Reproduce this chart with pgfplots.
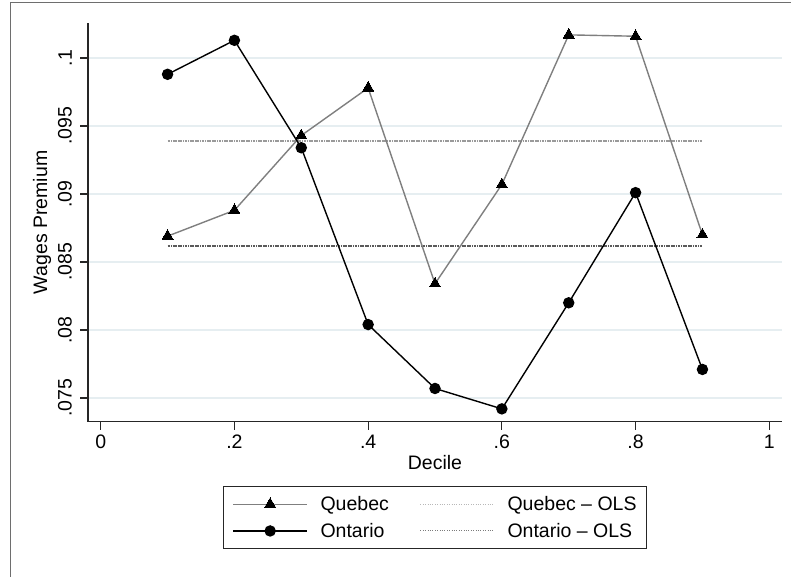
\documentclass[border=0pt]{standalone}
\usepackage{pgfplots}
\pgfplotsset{compat=1.18}
\usepackage{fontspec}
\setmainfont{Liberation Sans}

\definecolor{gridc}{HTML}{E6EEF1}
\definecolor{quebecline}{HTML}{7F7F7F}
\definecolor{framec}{HTML}{6E6E6E}
\definecolor{olsq}{HTML}{9A9A9A}
\definecolor{olso}{HTML}{5A5A5A}

\begin{document}
\begin{tikzpicture}[x=1pt,y=1pt,font=\fontsize{19.5}{23}\selectfont]
\useasboundingbox (0,0) rectangle (791,577);
% outer frame (top and left edges)
\draw[framec, line width=1.2pt] (10.5,-5) -- (10.5,574.3) -- (800,574.3);

\begin{axis}[
  at={(88pt,155.3pt)}, anchor=south west,
  scale only axis, width=694pt, height=398.7pt,
  xmin=-0.019, xmax=1.019,
  ymin=0.073257, ymax=0.102574,
  axis x line*=bottom, axis y line*=left,
  axis line style={black!85, line width=1.1pt, -},
  tick align=outside, major tick length=8pt,
  tick style={black!85, line width=1.1pt},
  xtick={0,0.2,0.4,0.6,0.8,1},
  xticklabels={0,.2,.4,.6,.8,1},
  ytick={0.075,0.08,0.085,0.09,0.095,0.1},
  yticklabels={.075,.08,.085,.09,.095,.1},
  /pgf/number format/assume math mode=true,
  xticklabel style={anchor=north, inner sep=0pt},
  xticklabel shift=5pt,
  yticklabel style={rotate=90, anchor=south, inner sep=0pt},
  yticklabel shift=8pt,
  ymajorgrids, major grid style={gridc, line width=1.2pt},
  xlabel={Decile}, ylabel={Wages Premium},
  xlabel style={at={(axis description cs:0.5,-0.1036)}, anchor=center},
  ylabel style={at={(axis description cs:-0.066,0.5)}, anchor=center},
  legend columns=2, transpose legend,
  legend cell align=left,
  legend image code/.code={\draw[mark repeat=2,mark phase=2,#1] plot coordinates {(0pt,0pt) (37pt,0pt) (74pt,0pt)};},
  legend style={at={(axis description cs:0.5,-0.1613)}, anchor=north,
    draw=black!85, line width=1pt, inner xsep=9pt, inner ysep=9pt,
    row sep=9pt,
    /tikz/every odd column/.append style={column sep=11.7pt},
    /tikz/every even column/.append style={column sep=30pt},
    nodes={inner sep=1pt}},
]
% fitted OLS levels
\addplot[forget plot, olsq, line width=1.8pt, dash pattern=on 1.2pt off 0.5pt] coordinates {(0.1,0.0939) (0.9,0.0939)};
\addplot[forget plot, olso, line width=1.8pt, dash pattern=on 1.2pt off 0.5pt] coordinates {(0.1,0.0862) (0.9,0.0862)};

\addplot[quebecline, line width=1.4pt, mark=triangle*, mark size=6.4pt,
  mark options={black, fill=black, line width=0pt}] coordinates {
  (0.1,0.0869) (0.2,0.0888) (0.3,0.0943) (0.4,0.0978) (0.5,0.0834)
  (0.6,0.0907) (0.7,0.1017) (0.8,0.1016) (0.9,0.0870)};
\addlegendentry{Quebec}
\addplot[black, line width=1.4pt, mark=*, mark size=5pt,
  mark options={black, fill=black}] coordinates {
  (0.1,0.0988) (0.2,0.1013) (0.3,0.0934) (0.4,0.0804) (0.5,0.0757)
  (0.6,0.0742) (0.7,0.0820) (0.8,0.0901) (0.9,0.0771)};
\addlegendentry{Ontario}
\addlegendimage{olsq!70, line width=1pt, dash pattern=on 0.8pt off 1.6pt}
\addlegendentry{Quebec -- OLS}
\addlegendimage{olso!80, line width=1pt, dash pattern=on 0.8pt off 1.6pt}
\addlegendentry{Ontario -- OLS}
\end{axis}
\end{tikzpicture}
\end{document}
